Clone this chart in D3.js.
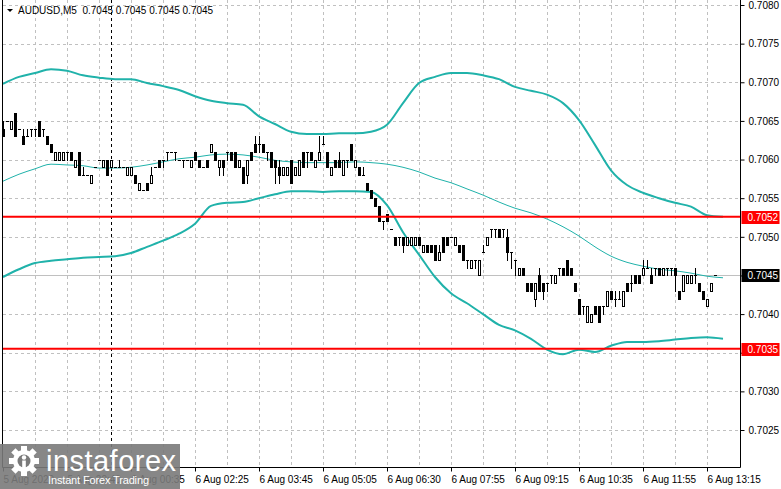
<!DOCTYPE html>
<html>
<head>
<meta charset="utf-8">
<script src="https://cdn.jsdelivr.net/npm/d3@7"></script>
<style>
  body { margin: 0; background: #fff; }
  svg text { font-family: "Liberation Sans", Arial, sans-serif; }
</style>
</head>
<body>
<svg id="chart" width="781" height="489"></svg>
<script>
// ---- data ----
const chartTitle = "AUDUSD,M5  0.7045 0.7045 0.7045 0.7045";
const priceTicks = [0.7025, 0.7030, 0.7035, 0.7040, 0.7045, 0.7050, 0.7055, 0.7060, 0.7065, 0.7070, 0.7075, 0.7080];
const timeLabels = ["5 Aug 2020", "5 Aug 22:40", "6 Aug 00:35", "6 Aug 02:25", "6 Aug 03:45", "6 Aug 05:05",
                    "6 Aug 06:30", "6 Aug 07:55", "6 Aug 09:15", "6 Aug 10:35", "6 Aug 11:55", "6 Aug 13:15"];
const timeLabelBars = [0, 16, 32, 48, 64, 80, 96, 112, 128, 144, 160, 176];

const opens = [
  0.7064,0.7065,0.7064,0.7066,0.7064,0.7063,0.7063,0.7064,0.7064,0.7065,
  0.7064,0.7063,0.7062,0.7060,0.7060,0.7060,0.7061,0.7061,0.7059,0.7061,
  0.7058,0.7058,0.7057,0.7059,0.7060,0.7059,0.7060,0.7059,0.7059,0.7059,
  0.7059,0.7058,0.7058,0.7058,0.7056,0.7056,0.7057,0.7057,0.7059,0.7060,
  0.7060,0.7061,0.7061,0.7061,0.7060,0.7060,0.7060,0.7059,0.7061,0.7060,
  0.7059,0.7060,0.7061,0.7061,0.7059,0.7060,0.7061,0.7061,0.7061,0.7059,
  0.7059,0.7058,0.7061,0.7062,0.7062,0.7062,0.7061,0.7061,0.7060,0.7059,
  0.7058,0.7058,0.7060,0.7058,0.7058,0.7061,0.7061,0.7061,0.7059,0.7060,
  0.7062,0.7061,0.7058,0.7060,0.7060,0.7058,0.7060,0.7062,0.7059,0.7059,
  0.7058,0.7057,0.7056,0.7055,0.7054,0.7052,0.7053,0.7051,0.7050,0.7050,
  0.7050,0.7049,0.7049,0.7049,0.7050,0.7048,0.7049,0.7049,0.7049,0.7047,
  0.7050,0.7050,0.7050,0.7049,0.7049,0.7049,0.7047,0.7046,0.7047,0.7045,
  0.7048,0.7049,0.7051,0.7051,0.7051,0.7051,0.7050,0.7048,0.7047,0.7045,
  0.7046,0.7044,0.7044,0.7042,0.7045,0.7044,0.7044,0.7045,0.7044,0.7046,
  0.7046,0.7047,0.7046,0.7044,0.7042,0.7041,0.7039,0.7039,0.7041,0.7041,
  0.7041,0.7041,0.7043,0.7042,0.7042,0.7041,0.7044,0.7044,0.7045,0.7045,
  0.7045,0.7046,0.7045,0.7046,0.7046,0.7045,0.7046,0.7046,0.7046,0.7043,
  0.7043,0.7044,0.7044,0.7045,0.7044,0.7043,0.7041,0.7043,0.7045
];
const highs = [
  0.7065,0.7065,0.7065,0.7066,0.7064,0.7064,0.7064,0.7064,0.7064,0.7065,
  0.7064,0.7063,0.7062,0.7061,0.7061,0.7061,0.7061,0.7061,0.7060,0.7061,
  0.7059,0.7058,0.7058,0.7059,0.7060,0.7060,0.7060,0.7060,0.7059,0.7060,
  0.7059,0.7059,0.7059,0.7058,0.7057,0.7056,0.7057,0.7059,0.7059,0.7060,
  0.7060,0.7061,0.7061,0.7061,0.7060,0.7060,0.7060,0.7060,0.7061,0.7060,
  0.7059,0.7060,0.7062,0.7061,0.7060,0.7060,0.7061,0.7061,0.7061,0.7060,
  0.7059,0.7060,0.7061,0.7063,0.7063,0.7062,0.7061,0.7061,0.7060,0.7060,
  0.7059,0.7059,0.7060,0.7059,0.7060,0.7061,0.7061,0.7061,0.7060,0.7063,
  0.7063,0.7061,0.7059,0.7060,0.7061,0.7060,0.7060,0.7062,0.7060,0.7059,
  0.7059,0.7057,0.7056,0.7055,0.7054,0.7052,0.7053,0.7051,0.7050,0.7050,
  0.7050,0.7050,0.7050,0.7050,0.7050,0.7049,0.7049,0.7049,0.7049,0.7049,
  0.7050,0.7050,0.7050,0.7050,0.7049,0.7049,0.7047,0.7047,0.7047,0.7047,
  0.7049,0.7050,0.7051,0.7051,0.7051,0.7051,0.7051,0.7048,0.7047,0.7046,
  0.7046,0.7044,0.7044,0.7044,0.7046,0.7044,0.7044,0.7045,0.7045,0.7046,
  0.7046,0.7047,0.7046,0.7044,0.7042,0.7041,0.7041,0.7040,0.7041,0.7041,
  0.7041,0.7043,0.7043,0.7043,0.7043,0.7043,0.7044,0.7045,0.7045,0.7045,
  0.7047,0.7047,0.7046,0.7046,0.7046,0.7046,0.7046,0.7046,0.7046,0.7043,
  0.7045,0.7045,0.7045,0.7046,0.7044,0.7043,0.7042,0.7044,0.7045
];
const lows = [
  0.7063,0.7065,0.7064,0.7063,0.7064,0.7062,0.7063,0.7063,0.7063,0.7063,
  0.7063,0.7062,0.7061,0.7060,0.7060,0.7060,0.7060,0.7060,0.7059,0.7058,
  0.7058,0.7058,0.7057,0.7059,0.7060,0.7059,0.7058,0.7059,0.7059,0.7059,
  0.7059,0.7058,0.7058,0.7057,0.7056,0.7056,0.7056,0.7057,0.7059,0.7059,
  0.7059,0.7060,0.7061,0.7060,0.7060,0.7059,0.7060,0.7059,0.7060,0.7059,
  0.7059,0.7059,0.7061,0.7060,0.7058,0.7058,0.7060,0.7060,0.7059,0.7059,
  0.7057,0.7057,0.7060,0.7061,0.7061,0.7061,0.7060,0.7059,0.7057,0.7057,
  0.7058,0.7058,0.7057,0.7058,0.7058,0.7059,0.7059,0.7060,0.7059,0.7060,
  0.7062,0.7059,0.7058,0.7059,0.7059,0.7058,0.7059,0.7060,0.7059,0.7058,
  0.7058,0.7056,0.7055,0.7054,0.7052,0.7051,0.7052,0.7051,0.7049,0.7049,
  0.7048,0.7049,0.7049,0.7049,0.7049,0.7048,0.7048,0.7048,0.7047,0.7047,
  0.7048,0.7049,0.7050,0.7049,0.7048,0.7047,0.7046,0.7046,0.7046,0.7045,
  0.7048,0.7049,0.7050,0.7050,0.7050,0.7050,0.7047,0.7046,0.7045,0.7045,
  0.7045,0.7043,0.7043,0.7041,0.7043,0.7042,0.7043,0.7044,0.7044,0.7045,
  0.7045,0.7045,0.7045,0.7043,0.7040,0.7040,0.7039,0.7039,0.7040,0.7039,
  0.7040,0.7041,0.7042,0.7041,0.7042,0.7041,0.7043,0.7043,0.7044,0.7044,
  0.7045,0.7046,0.7044,0.7045,0.7045,0.7045,0.7045,0.7045,0.7043,0.7042,
  0.7043,0.7044,0.7044,0.7044,0.7043,0.7042,0.7041,0.7043,0.7045
];
const closes = [
  0.7063,0.7065,0.7065,0.7063,0.7064,0.7062,0.7063,0.7064,0.7064,0.7063,
  0.7064,0.7062,0.7061,0.7061,0.7061,0.7061,0.7061,0.7060,0.7060,0.7058,
  0.7058,0.7058,0.7058,0.7059,0.7060,0.7060,0.7058,0.7060,0.7059,0.7059,
  0.7059,0.7059,0.7059,0.7057,0.7057,0.7056,0.7056,0.7058,0.7059,0.7059,
  0.7060,0.7061,0.7061,0.7061,0.7060,0.7060,0.7060,0.7060,0.7060,0.7059,
  0.7059,0.7059,0.7062,0.7060,0.7060,0.7059,0.7061,0.7060,0.7059,0.7060,
  0.7057,0.7060,0.7060,0.7061,0.7062,0.7061,0.7061,0.7059,0.7059,0.7058,
  0.7059,0.7059,0.7057,0.7059,0.7060,0.7059,0.7061,0.7060,0.7060,0.7061,
  0.7062,0.7059,0.7059,0.7059,0.7059,0.7060,0.7060,0.7060,0.7060,0.7058,
  0.7058,0.7056,0.7055,0.7054,0.7052,0.7052,0.7052,0.7051,0.7049,0.7050,
  0.7049,0.7050,0.7050,0.7050,0.7049,0.7049,0.7048,0.7048,0.7047,0.7048,
  0.7048,0.7049,0.7050,0.7050,0.7048,0.7047,0.7047,0.7047,0.7047,0.7047,
  0.7048,0.7050,0.7051,0.7051,0.7050,0.7051,0.7048,0.7048,0.7047,0.7046,
  0.7045,0.7043,0.7043,0.7044,0.7043,0.7043,0.7044,0.7045,0.7045,0.7046,
  0.7045,0.7045,0.7045,0.7043,0.7040,0.7041,0.7041,0.7040,0.7040,0.7039,
  0.7041,0.7043,0.7042,0.7042,0.7042,0.7043,0.7043,0.7044,0.7044,0.7044,
  0.7046,0.7046,0.7044,0.7046,0.7045,0.7046,0.7046,0.7046,0.7045,0.7042,
  0.7045,0.7045,0.7045,0.7045,0.7043,0.7042,0.7042,0.7044,0.7045
];

// bands, sampled every 4th bar (the lines run 2 bars past the last candle)
const upperBand = [0.70698,0.70707,0.70712,0.70717,0.70715,0.70709,0.70706,0.70704,0.70704,0.70699,
  0.70695,0.70690,0.70682,0.70676,0.70673,0.70671,0.70656,0.70646,0.70636,0.70633,
  0.70633,0.70634,0.70634,0.70636,0.70645,0.70673,0.70699,0.70707,0.70712,0.70712,
  0.70709,0.70704,0.70694,0.70689,0.70684,0.70673,0.70651,0.70619,0.70586,0.70567,
  0.70557,0.70550,0.70544,0.70539,0.70528,0.70526];
const middleBand = [0.70572,0.70581,0.70588,0.70594,0.70593,0.70592,0.70589,0.70589,0.70590,0.70593,
  0.70597,0.70601,0.70603,0.70606,0.70607,0.70606,0.70603,0.70599,0.70597,0.70596,
  0.70596,0.70596,0.70597,0.70596,0.70594,0.70590,0.70584,0.70576,0.70570,0.70562,
  0.70554,0.70545,0.70537,0.70531,0.70523,0.70513,0.70501,0.70487,0.70475,0.70467,
  0.70462,0.70458,0.70456,0.70453,0.70449,0.70447];
const lowerBand = [0.70448,0.70458,0.70466,0.70469,0.70471,0.70473,0.70474,0.70475,0.70479,0.70487,
  0.70495,0.70504,0.70517,0.70540,0.70544,0.70545,0.70550,0.70555,0.70559,0.70559,
  0.70558,0.70559,0.70559,0.70558,0.70541,0.70506,0.70477,0.70448,0.70427,0.70414,
  0.70400,0.70386,0.70379,0.70368,0.70354,0.70348,0.70354,0.70351,0.70359,0.70364,
  0.70364,0.70365,0.70367,0.70369,0.70370,0.70368];
const bandBars = d3.range(0, 181, 4);

const levelPrices = [0.70526, 0.70355];
const levelLabels = ["0.7052", "0.7035"];
const lastPrice = 0.7045;
const separatorBar = 27;

// ---- layout ----
const svg = d3.select("#chart");
const plotLeft = 2.5, plotRight = 740.5, plotTop = 0, plotBottom = 467.5;

const x = d3.scaleLinear().domain([0, 180]).range([3, 723]);
const y = d3.scaleLinear().domain([0.7025, 0.7080]).range([430, 5]);
const px = v => Math.round(x(v));
const py = v => Math.round(y(v));

svg.append("defs").append("clipPath").attr("id", "plot")
  .append("rect").attr("x", plotLeft).attr("y", plotTop).attr("width", plotRight - plotLeft).attr("height", plotBottom - plotTop);

// grid
const grid = svg.append("g").attr("stroke", "#c0c0c0").attr("stroke-dasharray", "3,3").attr("shape-rendering", "crispEdges");
grid.selectAll(".hg").data(priceTicks).enter().append("line")
  .attr("x1", 3).attr("x2", plotRight).attr("y1", d => py(d) + 0.5).attr("y2", d => py(d) + 0.5);
grid.selectAll(".vg").data(d3.range(8, 180, 8)).enter().append("line")
  .attr("y1", plotTop).attr("y2", plotBottom).attr("x1", d => px(d) + 0.5).attr("x2", d => px(d) + 0.5);

// period separator
svg.append("line")
  .attr("x1", px(separatorBar) + 0.5).attr("x2", px(separatorBar) + 0.5)
  .attr("y1", plotTop).attr("y2", plotBottom)
  .attr("stroke", "#000").attr("stroke-dasharray", "3,3");

// last price line
svg.append("line")
  .attr("x1", plotLeft).attr("x2", plotRight).attr("y1", py(lastPrice) + 0.5).attr("y2", py(lastPrice) + 0.5)
  .attr("stroke", "#c0c0c0").attr("shape-rendering", "crispEdges");

const plot = svg.append("g").attr("clip-path", "url(#plot)");

// bands
const bandLine = d3.line().x((d, i) => x(bandBars[i])).y(d => y(d)).curve(d3.curveMonotoneX);
plot.append("path").attr("d", bandLine(upperBand)).attr("fill", "none").attr("stroke", "#20b2aa").attr("stroke-width", 2);
plot.append("path").attr("d", bandLine(lowerBand)).attr("fill", "none").attr("stroke", "#20b2aa").attr("stroke-width", 2);
plot.append("path").attr("d", bandLine(middleBand)).attr("fill", "none").attr("stroke", "#20b2aa").attr("stroke-width", 1);

// candles
const bars = opens.map((o, i) => ({ i: i, o: o, h: highs[i], l: lows[i], c: closes[i] }));
const cg = plot.append("g").attr("shape-rendering", "crispEdges");
const candle = cg.selectAll("g").data(bars).enter().append("g");
candle.append("line")
  .attr("x1", d => px(d.i) + 0.5).attr("x2", d => px(d.i) + 0.5)
  .attr("y1", d => py(d.h)).attr("y2", d => py(d.l) + 1)
  .attr("stroke", "#000");
candle.filter(d => d.c < d.o).append("rect")
  .attr("x", d => px(d.i) - 1).attr("width", 3)
  .attr("y", d => py(d.o)).attr("height", d => py(d.c) - py(d.o) + 1)
  .attr("fill", "#000");
candle.filter(d => d.c > d.o).append("rect")
  .attr("x", d => px(d.i) - 0.5).attr("width", 2)
  .attr("y", d => py(d.c) + 0.5).attr("height", d => py(d.o) - py(d.c))
  .attr("fill", "#fff").attr("stroke", "#000");
candle.filter(d => d.c === d.o).append("line")
  .attr("x1", d => px(d.i) - 1).attr("x2", d => px(d.i) + 2)
  .attr("y1", d => py(d.o) + 0.5).attr("y2", d => py(d.o) + 0.5)
  .attr("stroke", "#000");

// red levels
svg.selectAll(".lvl").data(levelPrices).enter().append("line")
  .attr("x1", plotLeft).attr("x2", plotRight)
  .attr("y1", d => y(d)).attr("y2", d => y(d))
  .attr("stroke", "#ff0000").attr("stroke-width", 2);

// frame
svg.append("line").attr("x1", plotLeft).attr("x2", plotLeft).attr("y1", plotTop).attr("y2", plotBottom).attr("stroke", "#000");
svg.append("line").attr("x1", plotRight).attr("x2", plotRight).attr("y1", plotTop).attr("y2", plotBottom).attr("stroke", "#000");
svg.append("line").attr("x1", plotLeft).attr("x2", plotRight).attr("y1", plotBottom).attr("y2", plotBottom).attr("stroke", "#000");

// price axis
const yAxis = svg.append("g").attr("transform", `translate(${plotRight},0)`)
  .call(d3.axisRight(y).tickValues(priceTicks).tickSize(4).tickPadding(4).tickFormat(d3.format(".4f")));
yAxis.select(".domain").remove();
yAxis.selectAll("text").attr("font-size", 10).attr("fill", "#000").attr("font-family", "Liberation Sans, Arial, sans-serif");
yAxis.selectAll("line").attr("stroke", "#000");

// time axis
const xAxis = svg.append("g").attr("transform", `translate(0,${plotBottom})`)
  .call(d3.axisBottom(x).tickValues(timeLabelBars).tickSize(4).tickPadding(4).tickFormat((d, i) => timeLabels[i]));
xAxis.select(".domain").remove();
xAxis.selectAll("text").attr("font-size", 10).attr("fill", "#000").attr("text-anchor", "start").attr("dx", 0)
  .attr("font-family", "Liberation Sans, Arial, sans-serif");
xAxis.selectAll("line").attr("stroke", "#000");

// price tags
const tags = levelPrices.map((p, i) => ({ p: p, label: levelLabels[i], bg: "#ff0000" }))
  .concat([{ p: lastPrice, label: "0.7045", bg: "#000" }]);
const tag = svg.selectAll(".tag").data(tags).enter().append("g");
tag.append("rect").attr("x", plotRight + 1).attr("width", 38).attr("y", d => py(d.p) - 6).attr("height", 13).attr("fill", d => d.bg);
tag.append("text").attr("x", plotRight + 7).attr("y", d => py(d.p) + 4).attr("font-size", 10).attr("fill", "#fff").text(d => d.label);

// title
svg.append("path").attr("d", "M7,9 L13,9 L10,12 Z").attr("fill", "#000");
svg.append("text").attr("x", 18).attr("y", 14).attr("font-size", 10).attr("fill", "#000")
  .attr("xml:space", "preserve").style("white-space", "pre").text(chartTitle);

// watermark
const logo = svg.append("g");
logo.append("rect").attr("x", 0).attr("y", 444).attr("width", 180).attr("height", 45).attr("fill", "#7a7a7a").attr("opacity", 0.9);
const gear = logo.append("g").attr("transform", "translate(24,461)").attr("fill", "#fff");
gear.selectAll("rect").data(d3.range(8)).enter().append("rect")
  .attr("x", -3).attr("y", -15).attr("width", 6).attr("height", 7)
  .attr("transform", d => `rotate(${d * 45})`);
gear.append("circle").attr("r", 11);
gear.append("circle").attr("r", 6.5).attr("fill", "#7a7a7a");
gear.append("circle").attr("cy", -3.5).attr("r", 2.2);
gear.append("rect").attr("x", -1.8).attr("y", -0.5).attr("width", 3.6).attr("height", 9);
logo.append("text").attr("x", 46).attr("y", 471).attr("font-size", 29).attr("fill", "#fff")
  .attr("textLength", 130).attr("font-family", "Open Sans, Liberation Sans, sans-serif").text("instaforex");
logo.append("text").attr("x", 48).attr("y", 484).attr("font-size", 11).attr("fill", "#fff")
  .attr("textLength", 101).text("Instant Forex Trading");
</script>
</body>
</html>
